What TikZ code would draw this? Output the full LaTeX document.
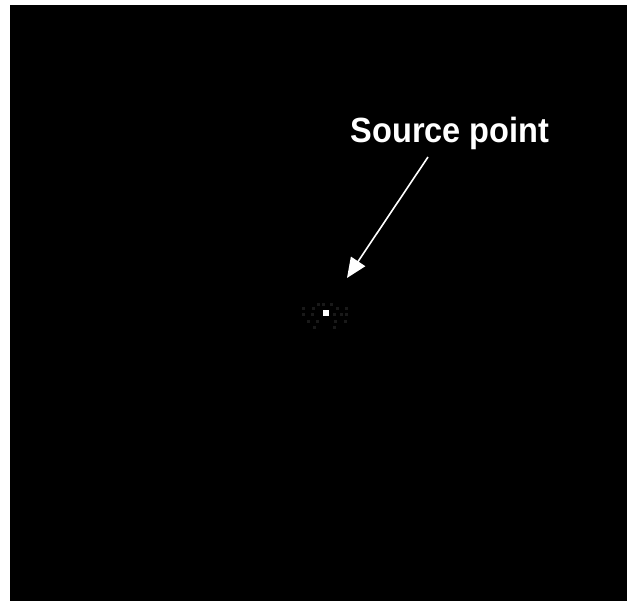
\documentclass[tikz,border=0pt]{standalone}
\usepackage{fontspec}
\setmainfont{Liberation Sans}
\usetikzlibrary{arrows.meta}
\begin{document}
\begin{tikzpicture}[x=1pt,y=-1pt,
  lbl/.style={text=white,font=\bfseries\fontsize{35}{38}\selectfont,inner sep=0pt,anchor=base,xscale=0.93},
  pointer/.style={draw=white,line width=1.6pt,-{Triangle[length=20pt,width=17pt]}},
  faint/.style={fill=black!90!white}]
\useasboundingbox (0,0) rectangle (627,601);
\fill[black] (10,5) rectangle (627,601);
% faint halo pixels
\foreach \x/\y in {317/303,322/303,330/303,302/307,312/307,336/307,345/307,302/313,311/313,333/313,340/313,345/313,307/320,316/320,334/320,344/320,313/326,333/326}
  \fill[faint] (\x,\y) rectangle ++(3,3);
\fill[white] (323,310) rectangle (329,316);
\node[lbl] (src) at (450,143) {Source point};
\coordinate (tail) at (428,157);
\coordinate (tip) at (347,278);
\draw[pointer] (tail) -- (tip);
\end{tikzpicture}
\end{document}
